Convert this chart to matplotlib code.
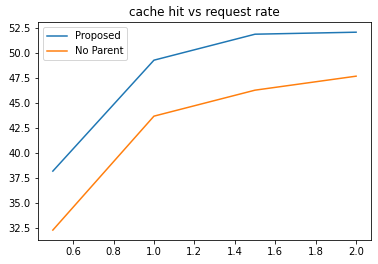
import matplotlib
matplotlib.use('Agg')
import matplotlib.pyplot as plt

rate = [0.5, 1.0, 1.5, 2.0]
proposed = [38.2, 49.3, 51.9, 52.1]
no_parent = [32.3, 43.7, 46.3, 47.7]

fig = plt.figure(figsize=(378/72, 264/72), dpi=72)
ax = fig.add_axes([0.0997, 0.091, 0.8825, 0.8245])
ax.plot(rate, proposed, label='Proposed')
ax.plot(rate, no_parent, label='No Parent')
ax.set_title('cache hit vs request rate')
ax.legend(loc='upper left')
fig.savefig('out.png', dpi=72)
